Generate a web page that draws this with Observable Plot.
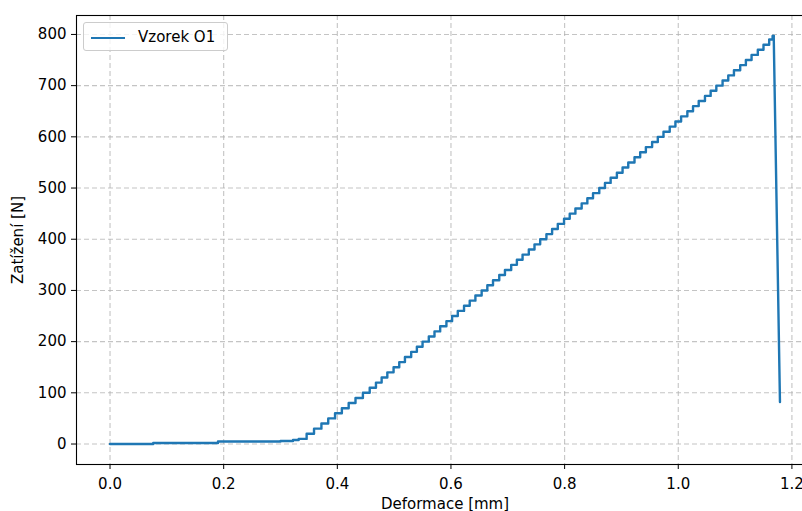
<!DOCTYPE html>
<html>
<head>
<meta charset="utf-8">
<script src="https://cdn.jsdelivr.net/npm/d3@7"></script>
<script src="https://cdn.jsdelivr.net/npm/@observablehq/plot@0.6"></script>
<style>
  html, body { margin: 0; padding: 0; background: white; }
  body { width: 802px; height: 511px; overflow: hidden; position: relative; font-family: "DejaVu Sans", sans-serif; }
  #chart { position: absolute; left: 0; top: 0; }
  .legend { position: absolute; left: 83px; top: 22px; width: 145px; height: 29px;
            border: 1px solid #cccccc; border-radius: 3px; background: rgba(255,255,255,0.8); box-sizing: border-box; }
  .legend .swatch { position: absolute; left: 7px; top: 14px; width: 34px; height: 2px; background: #1f77b4; }
  .legend .lab { position: absolute; left: 54px; top: 5px; font-size: 15px; line-height: 18px; color: #000; white-space: pre; }
  .xlabel { position: absolute; left: 245px; width: 400px; top: 495px; text-align: center; font-size: 15px; line-height: 18px; color: #000; }
  .ylabel { position: absolute; left: -82px; top: 231px; width: 200px; height: 18px; text-align: center; font-size: 15px; line-height: 18px; color: #000; transform: rotate(-90deg); transform-origin: 100px 9px; }
</style>
</head>
<body>
<div id="chart"></div>
<div class="legend"><div class="swatch"></div><div class="lab">Vzorek O1</div></div>
<div class="xlabel">Deformace [mm]</div>
<div class="ylabel">Zatížení [N]</div>
<script>
// Staircase load curve (step points)
const stairsX = [0, 0.076, 0.19, 0.30, 0.322, 0.332, 0.346, 0.359, 0.372, 0.384, 0.396, 0.408, 0.420, 0.432, 0.445,
  0.457, 0.468, 0.478, 0.488, 0.499, 0.509, 0.519, 0.530, 0.540, 0.550,
  0.561, 0.571, 0.581, 0.592, 0.602, 0.612, 0.623, 0.633, 0.643, 0.654,
  0.664, 0.674, 0.685, 0.695, 0.706, 0.716, 0.726, 0.737, 0.747, 0.757,
  0.768, 0.778, 0.788, 0.799, 0.809, 0.819, 0.830, 0.840, 0.850, 0.861,
  0.871, 0.881, 0.892, 0.902, 0.912, 0.923, 0.933, 0.943, 0.954, 0.964,
  0.974, 0.985, 0.995, 1.005, 1.016, 1.026, 1.036, 1.047, 1.057, 1.067,
  1.078, 1.088, 1.098, 1.109, 1.119, 1.129, 1.140, 1.150, 1.160, 1.166, 1.168];
const stairsY = [0, 2, 5, 6, 8, 10, 20, 30, 40, 50, 60, 70, 80, 90, 100,
  110, 120, 130, 140, 150, 160, 170, 180, 190, 200,
  210, 220, 230, 240, 250, 260, 270, 280, 290, 300,
  310, 320, 330, 340, 350, 360, 370, 380, 390, 400,
  410, 420, 430, 440, 450, 460, 470, 480, 490, 500,
  510, 520, 530, 540, 550, 560, 570, 580, 590, 600,
  610, 620, 630, 640, 650, 660, 670, 680, 690, 700,
  710, 720, 730, 740, 750, 760, 770, 780, 790, 797, 797];
// Final failure drop
const dropX = [1.168, 1.179];
const dropY = [797, 82];

const xTicks = [0.0, 0.2, 0.4, 0.6, 0.8, 1.0, 1.2];
const yTicks = [0, 100, 200, 300, 400, 500, 600, 700, 800];
const xDomain = [-0.059, 1.238];
const yDomain = [-40, 837];

const stairs = stairsX.map((x, i) => ({x, y: stairsY[i]}));
const drop = dropX.map((x, i) => ({x, y: dropY[i]}));

const gridStyle = {stroke: "#b0b0b0", strokeOpacity: 0.75, strokeWidth: 1.1, strokeDasharray: "5,3"};

const chart = Plot.plot({
  width: 840,
  height: 540,
  marginLeft: 76,
  marginTop: 15,
  marginBottom: 76,
  marginRight: 27,
  style: {fontFamily: "DejaVu Sans", fontSize: "15px", color: "black", background: "white", maxWidth: "none", overflow: "visible"},
  x: {domain: xDomain},
  y: {domain: yDomain},
  marks: [
    Plot.gridX(xTicks, gridStyle),
    Plot.gridY(yTicks, gridStyle),
    Plot.line(stairs, {x: "x", y: "y", curve: "step-after", stroke: "#1f77b4", strokeWidth: 2.4}),
    Plot.line(drop, {x: "x", y: "y", stroke: "#1f77b4", strokeWidth: 2.4}),
    Plot.frame({stroke: "black", strokeWidth: 1.1}),
    Plot.axisX(xTicks, {tickFormat: d => d.toFixed(1), tickSize: 5, tickPadding: 9, label: null, fontSize: 15}),
    Plot.axisY(yTicks, {tickFormat: d => String(d), tickSize: 5, tickPadding: 5, label: null, fontSize: 15})
  ]
});
document.getElementById("chart").appendChild(chart);
</script>
</body>
</html>
